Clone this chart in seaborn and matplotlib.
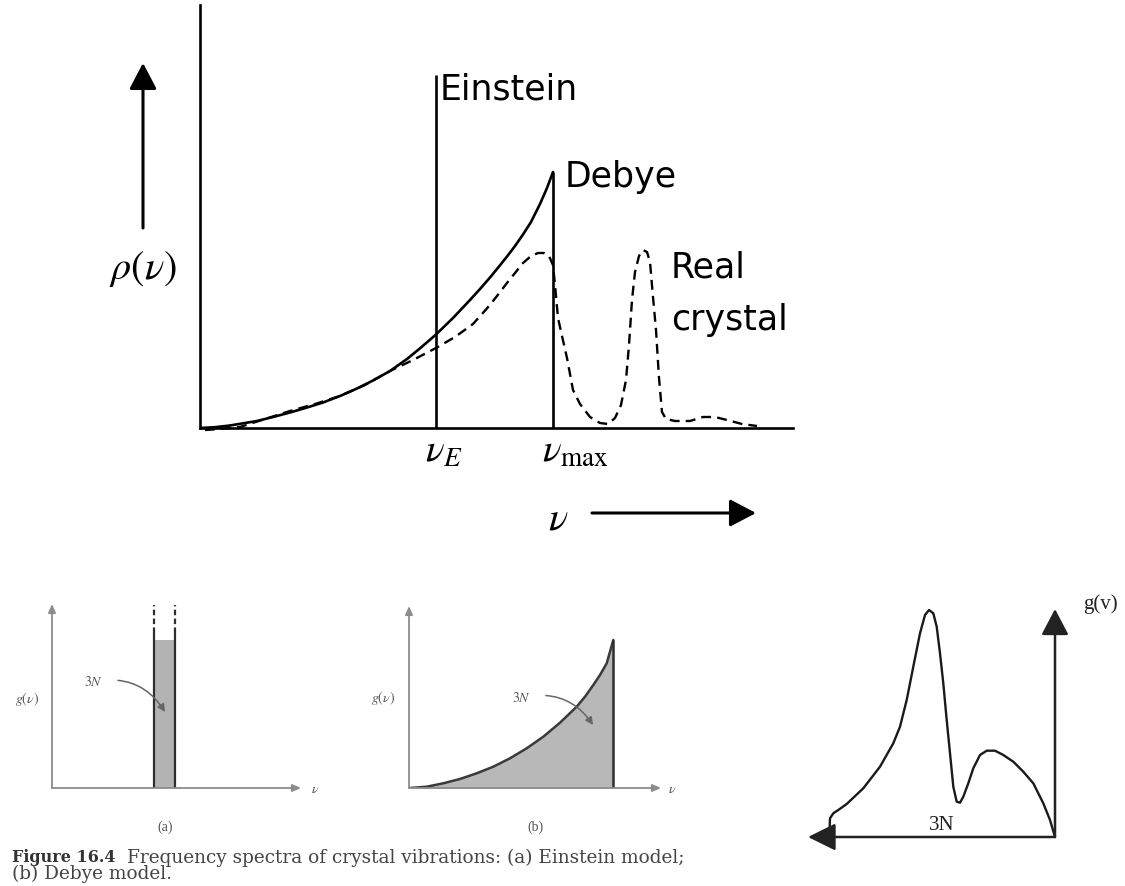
import matplotlib
matplotlib.use("Agg")
import matplotlib.pyplot as plt
import matplotlib.transforms as mtrans
import seaborn as sns

# ---------------- data (arbitrary units) ----------------
# main diagram: Debye (solid) and real crystal (dashed) spectra
debye_nu = [0, 15, 30, 45, 57, 75, 90, 107, 123, 140, 157, 173, 190, 207, 221, 236,
            253, 270, 280, 290, 299, 307, 315, 323, 331, 340, 347, 353]
debye_rho = [0, 0.8, 2.5, 5, 7, 11.5, 15.5, 20.5, 25.5, 32, 39.5, 47.5, 57, 69, 80.5, 93.5,
             110, 128, 139, 150.5, 161.5, 171.5, 182, 193.5, 206, 224, 240, 256]

real_nu = [5, 20, 40, 65, 90, 115, 140, 165, 190, 213, 236, 255, 273, 290, 307, 323, 331,
           338, 344, 349, 353, 355, 358, 362, 367, 373, 380, 390, 400, 408, 415, 421, 426,
           429, 432, 435, 439, 443, 447, 450, 453, 456, 459, 462, 466, 475, 490, 503, 515,
           527, 542, 557]
real_rho = [-2, -1, 1, 9, 17, 24, 32, 43, 57, 68, 80, 91, 104, 123, 145, 165, 172,
            175, 175, 172, 163, 143, 110, 92, 70, 38, 24, 11, 5, 4, 10, 23, 48,
            83, 128, 156, 172, 178, 176, 166, 131, 98, 50, 16, 9, 7, 7, 11, 11,
            8, 4, 2]

nu_E = 236
nu_max = 353
einstein_height = 353
tick_labels = [r"$\nu_E$", r"$\nu_{\rm max}$"]

# panel (a): Einstein model
a_edges = [102, 123]
a_fill_top = 148
a_line_top = 155
a_dash_top = 183

# panel (b): Debye model
b_nu = [0, 1, 17.7, 34.3, 51, 67.7, 84.3, 101, 117.7, 134.3, 151, 167.7, 176, 184.3, 191,
        197.7, 204.3]
b_g = [0, 0, 1.3, 4.7, 9, 14.7, 21.3, 29.7, 39.7, 51.3, 65.3, 81.3, 91.3, 103, 113,
       124.7, 148]

# panel (c): real crystal (nu increasing to the left)
c_nu = [225.7, 225, 221.7, 216.7, 208.3, 191.7, 175, 161.7, 155, 148.3, 141.7, 135, 130,
        126, 121.7, 118.3, 115, 111.7, 108.3, 105, 101.7, 98.3, 95, 91.7, 86.7, 81.7, 75,
        68.3, 60, 51.7, 41.7, 31.7, 21.7, 11.7, 5, 0]
c_g = [0, 18.7, 23.7, 27, 33, 48.7, 70.3, 93.7, 110.3, 137, 170.3, 203.7, 222, 227,
       223.7, 210.3, 183.7, 153.7, 117, 83.7, 50.3, 35.3, 34.3, 40.3, 53.7, 68.7, 82,
       86.3, 86.3, 82, 75.3, 65.3, 53.7, 33.7, 17, 0]

caption_bold = "Figure 16.4"
caption_line1 = "Frequency spectra of crystal vibrations: (a) Einstein model;"
caption_line2 = "(b) Debye model."

# ---------------- style ----------------
sns.set_theme(style="white")
plt.rcParams["font.family"] = ["DejaVu Sans"]
plt.rcParams["mathtext.fontset"] = "stix"
plt.rcParams["text.color"] = "black"

W, H = 1125, 886
fig = plt.figure(figsize=(W / 100, H / 100), dpi=100)
fig.patch.set_facecolor("white")


def box(x0, y0, x1, y1):
    return [x0 / W, 1 - y1 / H, (x1 - x0) / W, (y1 - y0) / H]


def P(x, y):
    return (x / W, 1 - y / H)


def fig_arrow(ax, start, end, color="black", lw=2.2, hl=0.8, hw=0.42, ms=20):
    ax.annotate("", xy=P(*end), xytext=P(*start), xycoords="figure fraction",
                textcoords="figure fraction",
                arrowprops=dict(arrowstyle=f"-|>,head_length={hl},head_width={hw}",
                                color=color, lw=lw, mutation_scale=ms,
                                shrinkA=0, shrinkB=0))


# ---------------- main diagram ----------------
ax = fig.add_axes(box(200, 5, 793, 428))
ax.set_xlim(0, 593)
ax.set_ylim(0, 423)
ax.set_facecolor("white")
sns.lineplot(x=debye_nu, y=debye_rho, ax=ax, color="black", lw=1.9,
             sort=False, estimator=None)
sns.lineplot(x=real_nu, y=real_rho, ax=ax, color="black", lw=1.7,
             linestyle=(0, (4.2, 2.6)), sort=False, estimator=None, clip_on=False)
ax.vlines([nu_E], 0, einstein_height, color="black", lw=1.9)
ax.vlines([nu_max], 0, debye_rho[-1], color="black", lw=1.9)
sns.despine(ax=ax)
for s in ("left", "bottom"):
    ax.spines[s].set_color("black")
    ax.spines[s].set_linewidth(1.9)
ax.set_yticks([])
ax.set_xticks([nu_E, nu_max])
ax.set_xticklabels(tick_labels, fontsize=28)
ax.tick_params(axis="x", length=0, pad=3, colors="black")
offset = mtrans.ScaledTranslation(-11 / 100, 0, fig.dpi_scale_trans)
for lbl in ax.get_xticklabels():
    lbl.set_horizontalalignment("left")
    lbl.set_transform(lbl.get_transform() + offset)

fig.text(*P(440, 100), "Einstein", fontsize=25, ha="left", va="baseline")
fig.text(*P(565, 187), "Debye", fontsize=25, ha="left", va="baseline")
fig.text(*P(671, 277), "Real", fontsize=25, ha="left", va="baseline")
fig.text(*P(671, 330), "crystal", fontsize=25, ha="left", va="baseline")
fig.text(*P(143, 269), r"$\rho(\nu)$", fontsize=29, ha="center", va="center")
fig.text(*P(558, 518), r"$\nu$", fontsize=29, ha="center", va="center")

fig_arrow(ax, (143, 228), (143, 63))
fig_arrow(ax, (592, 513), (756, 513))

# ---------------- panel (a) ----------------
grey_axis = "#8c8c8c"
dark = "#2e2e2e"
grey_txt = "#555555"
serif = ["Liberation Serif", "DejaVu Serif"]

axa = fig.add_axes(box(52, 605, 300, 788))
axa.set_xlim(0, 248)
axa.set_ylim(0, 183)
axa.set_axis_off()
axa.fill_between(a_edges, 0, a_fill_top, color="#b3b3b3", lw=0)
axa.vlines(a_edges, 0, a_line_top, color=dark, lw=1.6)
axa.vlines(a_edges, a_line_top, a_dash_top, color=dark, lw=1.6,
           linestyles=[(0, (2.5, 1.5))])
fig_arrow(axa, (52, 788), (301, 788), color=grey_axis, lw=1.3, hl=0.5, hw=0.22, ms=10)
fig_arrow(axa, (52, 788), (52, 604), color=grey_axis, lw=1.3, hl=0.5, hw=0.22, ms=10)
axa.annotate(r"$3N$", xy=(113, 76), xytext=(42, 106), fontsize=10, color=grey_txt,
             ha="center", va="center",
             arrowprops=dict(arrowstyle="-|>,head_length=0.5,head_width=0.25",
                             connectionstyle="arc3,rad=-0.35", color="#666666", lw=1.1,
                             mutation_scale=9, shrinkA=8, shrinkB=0))
fig.text(*P(27, 699), r"$g(\nu)$", fontsize=10, color=grey_txt, ha="center", va="center")
fig.text(*P(315, 789), r"$\nu$", fontsize=10, color=grey_txt, ha="center", va="center")
fig.text(*P(165, 827), "(a)", fontsize=10, color=grey_txt, ha="center", va="center",
         family=serif)

# ---------------- panel (b) ----------------
axb = fig.add_axes(box(409, 607, 660, 788))
axb.set_xlim(0, 251)
axb.set_ylim(0, 181)
axb.set_axis_off()
axb.fill_between(b_nu, 0, b_g, color="#b8b8b8", lw=0)
sns.lineplot(x=b_nu, y=b_g, ax=axb, color="#3a3a3a", lw=1.8, sort=False, estimator=None)
axb.vlines([b_nu[-1]], 0, b_g[-1], color=dark, lw=1.8)
fig_arrow(axb, (409, 788), (661, 788), color=grey_axis, lw=1.3, hl=0.5, hw=0.22, ms=10)
fig_arrow(axb, (409, 788), (409, 606), color=grey_axis, lw=1.3, hl=0.5, hw=0.22, ms=10)
axb.annotate(r"$3N$", xy=(184, 63), xytext=(113, 90), fontsize=10, color=grey_txt,
             ha="center", va="center",
             arrowprops=dict(arrowstyle="-|>,head_length=0.5,head_width=0.25",
                             connectionstyle="arc3,rad=-0.35", color="#666666", lw=1.1,
                             mutation_scale=9, shrinkA=8, shrinkB=0))
fig.text(*P(383, 698), r"$g(\nu)$", fontsize=10, color=grey_txt, ha="center", va="center")
fig.text(*P(672, 789), r"$\nu$", fontsize=10, color=grey_txt, ha="center", va="center")
fig.text(*P(535, 827), "(b)", fontsize=10, color=grey_txt, ha="center", va="center",
         family=serif)

# ---------------- caption ----------------
cap_serif = ["DejaVu Serif"]
fig.text(*P(12, 858), caption_bold, fontsize=11.5, fontweight="bold", color="#333333",
         ha="left", va="center", family=cap_serif)
fig.text(*P(127, 858), caption_line1, fontsize=13.3, color="#444444",
         ha="left", va="center", family=cap_serif)
fig.text(*P(12, 874), caption_line2, fontsize=13.3, color="#444444",
         ha="left", va="center", family=cap_serif)

# ---------------- panel (c) ----------------
axc = fig.add_axes(box(829, 610, 1055, 837))
axc.set_xlim(226, 0)
axc.set_ylim(0, 227)
axc.set_axis_off()
sns.lineplot(x=c_nu, y=c_g, ax=axc, color="#1a1a1a", lw=1.7, sort=False, estimator=None,
             clip_on=False)
fig_arrow(axc, (1055, 837), (808, 837), color="#222222", lw=1.8, hl=0.85, hw=0.42, ms=20)
fig_arrow(axc, (1055, 837), (1055, 609), color="#222222", lw=1.8, hl=0.8, hw=0.42, ms=20)
axc.text(113, 12, "3N", fontsize=15, ha="center", va="center", color="#222222",
         family=serif)
fig.text(*P(1100, 604), "g(v)", fontsize=15, ha="center", va="center", color="#222222",
         family=serif)

fig.savefig("out.png", dpi=100, facecolor="white")
